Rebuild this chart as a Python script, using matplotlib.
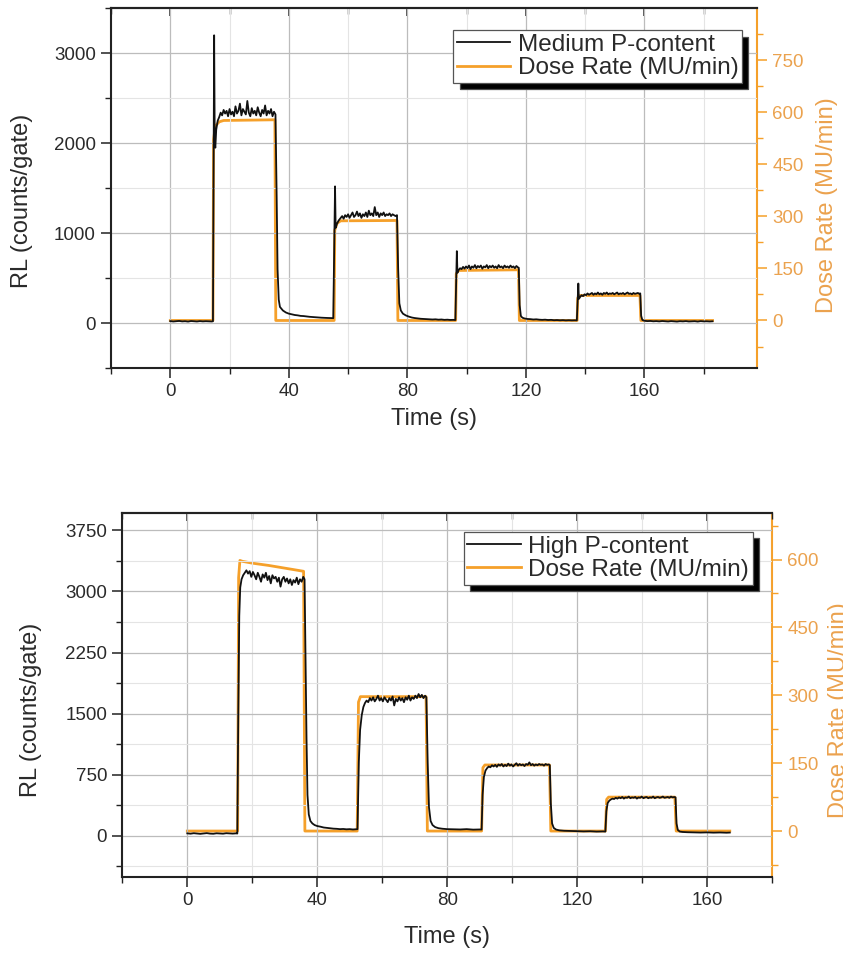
#!/usr/bin/env python3
import matplotlib
matplotlib.use('Agg')
import matplotlib.pyplot as plt
from matplotlib.ticker import MultipleLocator

plt.rcParams['font.family'] = ['Liberation Sans', 'DejaVu Sans']

# ---- Medium P-content (top panel): (time s, RL counts/gate)
medium_rl = [
    (0, 22), (1, 18), (2, 21), (3, 24), (4, 19), (5, 21), (6, 17), (7, 23), (8, 20), (9, 18),
    (10, 22), (11, 19), (12, 21), (13, 20), (14, 18), (14.4, 20),
    (14.6, 1500), (14.8, 3200), (15.0, 2000), (15.2, 1950), (15.5, 2150), (16, 2250), (16.5, 2290),
    (17, 2340), (17.5, 2310), (18, 2370), (18.5, 2330), (19, 2360), (19.5, 2300), (20, 2380),
    (20.5, 2320), (21, 2350), (21.5, 2300), (22, 2410), (22.5, 2330), (23, 2360), (23.5, 2440),
    (24, 2310), (24.5, 2380), (25, 2350), (25.5, 2320), (26, 2470), (26.5, 2340), (27, 2300),
    (27.5, 2390), (28, 2330), (28.5, 2360), (29, 2310), (29.5, 2400), (30, 2340), (30.5, 2300),
    (31, 2370), (31.5, 2330), (32, 2420), (32.5, 2310), (33, 2360), (33.5, 2330), (34, 2380),
    (34.5, 2300), (35, 2350), (35.5, 2320),
    (35.9, 1400), (36.2, 600), (36.6, 260), (37, 180), (38, 140), (39, 118), (40, 105), (41, 98),
    (42, 90), (43, 86), (44, 80), (45, 78), (46, 74), (47, 70), (48, 68), (49, 65), (50, 62),
    (51, 60), (52, 58), (53, 57), (54, 56), (55, 55),
    (55.4, 1000), (55.6, 1520), (55.8, 1060), (56.2, 1100), (56.8, 1140), (57.5, 1170), (58, 1190),
    (58.5, 1160), (59, 1200), (59.5, 1180), (60, 1210), (60.5, 1170), (61, 1200), (61.5, 1230),
    (62, 1180), (62.5, 1200), (63, 1240), (63.5, 1190), (64, 1220), (64.5, 1170), (65, 1210),
    (65.5, 1190), (66, 1230), (66.5, 1180), (67, 1250), (67.5, 1200), (68, 1220), (68.5, 1190),
    (69, 1290), (69.5, 1200), (70, 1230), (70.5, 1180), (71, 1220), (71.5, 1200), (72, 1230),
    (72.5, 1190), (73, 1210), (73.5, 1200), (74, 1220), (74.5, 1190), (75, 1210), (75.5, 1200),
    (76, 1190), (76.5, 1200),
    (76.9, 600), (77.3, 220), (77.8, 140), (78.5, 105), (79.5, 85), (80.5, 72), (81.5, 62),
    (82.5, 56), (83.5, 52), (84.5, 48), (85.5, 46), (86.5, 44), (87.5, 43), (88.5, 40),
    (89.5, 42), (90.5, 38), (91.5, 40), (92.5, 36), (93.5, 38), (94.5, 35), (95.5, 36), (96.2, 34),
    (96.5, 480), (96.7, 800), (96.9, 560), (97.3, 590), (97.8, 610), (98.3, 600), (98.8, 625),
    (99.3, 605), (99.8, 630), (100.3, 610), (100.8, 640), (101.3, 600), (101.8, 630), (102.3, 615),
    (102.8, 645), (103.3, 610), (103.8, 635), (104.3, 620), (104.8, 640), (105.3, 605),
    (105.8, 630), (106.3, 620), (106.8, 645), (107.3, 610), (107.8, 635), (108.3, 620),
    (108.8, 640), (109.3, 615), (109.8, 630), (110.3, 610), (110.8, 645), (111.3, 620),
    (111.8, 630), (112.3, 610), (112.8, 640), (113.3, 620), (113.8, 630), (114.3, 615),
    (114.8, 640), (115.3, 620), (115.8, 630), (116.3, 610), (116.8, 635), (117.3, 620), (117.6, 615),
    (117.9, 200), (118.3, 80), (118.8, 60), (119.5, 52), (120.5, 46), (121.5, 44), (122.5, 40),
    (123.5, 42), (124.5, 38), (125.5, 36), (126.5, 38), (127.5, 34), (128.5, 36), (129.5, 32),
    (130.5, 34), (131.5, 31), (132.5, 33), (133.5, 30), (134.5, 32), (135.5, 30), (136.5, 31),
    (137.2, 30),
    (137.5, 260), (137.7, 440), (137.9, 270), (138.3, 290), (138.8, 310), (139.3, 300), (139.8, 320),
    (140.3, 310), (140.8, 330), (141.3, 315), (141.8, 325), (142.3, 335), (142.8, 315),
    (143.3, 330), (143.8, 320), (144.3, 340), (144.8, 320), (145.3, 330), (145.8, 315),
    (146.3, 335), (146.8, 325), (147.3, 340), (147.8, 320), (148.3, 330), (148.8, 325),
    (149.3, 335), (149.8, 320), (150.3, 330), (150.8, 340), (151.3, 320), (151.8, 330),
    (152.3, 325), (152.8, 335), (153.3, 320), (153.8, 330), (154.3, 340), (154.8, 325),
    (155.3, 330), (155.8, 320), (156.3, 335), (156.8, 325), (157.3, 330), (157.8, 335),
    (158.3, 325), (158.6, 330),
    (158.9, 80), (159.3, 35), (160, 26), (161, 22), (162, 24), (163, 20), (164, 22), (165, 19),
    (166, 23), (167, 20), (168, 18), (169, 22), (170, 20), (171, 17), (172, 21), (173, 19),
    (174, 22), (175, 18), (176, 20), (177, 21), (178, 17), (179, 22), (180, 19), (181, 20),
    (182, 18), (183, 20),
]

# dose rate (MU/min) for the top panel
medium_dose = [
    (0, 0), (14.4, 0), (14.6, 520), (15.2, 560), (16.5, 572), (18, 576), (35.3, 578), (35.6, 0),
    (55.3, 0), (55.5, 260), (56.3, 280), (57.5, 287), (76.5, 288), (76.8, 0),
    (96.3, 0), (96.5, 135), (97.3, 144), (117.5, 146), (117.8, 0),
    (137.3, 0), (137.5, 65), (138.3, 72), (158.5, 72), (158.8, 0), (183, 0),
]

# ---- High P-content (bottom panel)
high_rl = [
    (0, 28), (1, 24), (2, 30), (3, 26), (4, 22), (5, 27), (6, 31), (7, 25), (8, 23), (9, 29),
    (10, 26), (11, 24), (12, 30), (13, 27), (14, 25), (15, 28), (15.4, 26),
    (15.7, 1500), (16.0, 2700), (16.3, 3050), (16.7, 3150), (17.2, 3200), (17.7, 3230),
    (18.2, 3260), (18.7, 3220), (19.2, 3250), (19.7, 3180), (20.2, 3240), (20.7, 3200),
    (21.2, 3150), (21.7, 3230), (22.2, 3180), (22.7, 3120), (23.2, 3210), (23.7, 3170),
    (24.2, 3230), (24.7, 3140), (25.2, 3190), (25.7, 3100), (26.2, 3200), (26.7, 3160),
    (27.2, 3180), (27.7, 3120), (28.2, 3170), (28.7, 3060), (29.2, 3150), (29.7, 3180),
    (30.2, 3120), (30.7, 3160), (31.2, 3100), (31.7, 3150), (32.2, 3080), (32.7, 3140),
    (33.2, 3110), (33.7, 3170), (34.2, 3090), (34.7, 3150), (35.2, 3120), (35.7, 3180), (36.1, 3150),
    (36.4, 2200), (36.7, 1200), (37.0, 500), (37.4, 260), (37.9, 180), (38.5, 150), (39.2, 130),
    (40, 118), (41, 110), (42, 100), (43, 95), (44, 90), (45, 86), (46, 84), (47, 80), (48, 82),
    (49, 78), (50, 80), (51, 76), (52, 78), (52.4, 80),
    (52.8, 900), (53.2, 1300), (53.7, 1480), (54.2, 1580), (54.7, 1630), (55.2, 1660),
    (55.7, 1640), (56.2, 1690), (56.7, 1660), (57.2, 1700), (57.7, 1650), (58.2, 1680),
    (58.7, 1720), (59.2, 1660), (59.7, 1690), (60.2, 1650), (60.7, 1700), (61.2, 1670),
    (61.7, 1640), (62.2, 1690), (62.7, 1660), (63.2, 1710), (63.7, 1600), (64.2, 1680),
    (64.7, 1650), (65.2, 1700), (65.7, 1660), (66.2, 1690), (66.7, 1640), (67.2, 1700),
    (67.7, 1670), (68.2, 1720), (68.7, 1660), (69.2, 1700), (69.7, 1680), (70.2, 1720),
    (70.7, 1690), (71.2, 1740), (71.7, 1700), (72.2, 1730), (72.7, 1690), (73.2, 1720), (73.6, 1700),
    (74.0, 900), (74.4, 350), (74.9, 180), (75.5, 130), (76.3, 105), (77.3, 92), (78.5, 85),
    (80, 80), (82, 78), (84, 76), (86, 80), (88, 74), (90, 76), (90.6, 75),
    (90.9, 500), (91.3, 720), (91.8, 800), (92.3, 830), (92.8, 850), (93.3, 840), (93.8, 865),
    (94.3, 850), (94.8, 870), (95.3, 845), (95.8, 875), (96.3, 860), (96.8, 880), (97.3, 850),
    (97.8, 870), (98.3, 855), (98.8, 885), (99.3, 860), (99.8, 875), (100.3, 850), (100.8, 870),
    (101.3, 890), (101.8, 860), (102.3, 880), (102.8, 865), (103.3, 875), (103.8, 855),
    (104.3, 880), (104.8, 870), (105.3, 900), (105.8, 865), (106.3, 880), (106.8, 860),
    (107.3, 875), (107.8, 865), (108.3, 880), (108.8, 870), (109.3, 875), (109.8, 860),
    (110.3, 880), (110.8, 870), (111.3, 875), (111.6, 865),
    (111.9, 400), (112.3, 150), (112.8, 95), (113.5, 75), (114.5, 65), (116, 60), (118, 58),
    (120, 55), (122, 52), (124, 54), (126, 50), (128, 52), (128.7, 50),
    (129.0, 300), (129.4, 400), (129.9, 430), (130.4, 445), (130.9, 455), (131.4, 450),
    (131.9, 465), (132.4, 455), (132.9, 470), (133.4, 460), (133.9, 475), (134.4, 455),
    (134.9, 470), (135.4, 465), (135.9, 480), (136.4, 460), (136.9, 470), (137.4, 465),
    (137.9, 475), (138.4, 455), (138.9, 470), (139.4, 465), (139.9, 480), (140.4, 460),
    (140.9, 470), (141.4, 475), (141.9, 460), (142.4, 470), (142.9, 465), (143.4, 480),
    (143.9, 460), (144.4, 470), (144.9, 475), (145.4, 465), (145.9, 470), (146.4, 480),
    (146.9, 465), (147.4, 470), (147.9, 475), (148.4, 465), (148.9, 480), (149.4, 470),
    (149.9, 475), (150.3, 470),
    (150.6, 150), (151, 70), (151.6, 50), (152.5, 45), (154, 42), (156, 40), (158, 38), (160, 40),
    (162, 37), (164, 39), (166, 36), (167, 38),
]

high_dose = [
    (0, 0), (15.5, 0), (15.8, 560), (16.2, 598), (17, 596), (20, 592), (25, 587), (30, 581),
    (35.8, 574), (36.2, 0), (52.3, 0), (52.7, 285), (53.3, 297), (73.5, 297), (73.9, 0),
    (90.6, 0), (91.0, 140), (91.6, 146), (111.5, 146), (111.9, 0),
    (128.7, 0), (129.1, 70), (129.7, 75), (150.1, 75), (150.5, 0), (167, 0),
]

ORANGE = '#F5A02A'
ORANGE_TXT = '#EBA24E'
TXT = '#2a2a2a'


def draw_panel(fig, rect, rl, dose, rl_label, xlim, ylim, ystep, ylim2,
               leg_anchor, ylab_pos, y2lab_pos, xlab_y):
    ax = fig.add_axes(rect)
    ax2 = ax.twinx()
    # keep the black trace above the orange one
    ax.set_zorder(ax2.get_zorder() + 1)
    ax.patch.set_visible(False)

    t1, v1 = zip(*dose)
    l2, = ax2.plot(t1, v1, color=ORANGE, lw=2.0, label='Dose Rate (MU/min)')
    t0, v0 = zip(*rl)
    l1, = ax.plot(t0, v0, color='#111111', lw=1.3, label=rl_label)

    ax.set_xlim(*xlim)
    ax.set_ylim(*ylim)
    ax2.set_ylim(*ylim2)

    ax.xaxis.set_major_locator(MultipleLocator(40))
    ax.xaxis.set_minor_locator(MultipleLocator(20))
    ax.yaxis.set_major_locator(MultipleLocator(ystep))
    ax.yaxis.set_minor_locator(MultipleLocator(ystep / 2))
    ax2.yaxis.set_major_locator(MultipleLocator(150))
    ax2.yaxis.set_minor_locator(MultipleLocator(75))

    ax.grid(which='major', color='#bcbcbc', lw=0.9)
    ax.grid(which='minor', color='#e4e4e4', lw=0.8)

    ax.tick_params(which='major', length=7, width=1.1, labelsize=13.5,
                   labelcolor=TXT, color='#222222', pad=4)
    ax.tick_params(which='minor', length=4, width=1.0, color='#222222')
    ax2.tick_params(which='major', length=7, width=1.1, labelsize=13.5,
                    labelcolor=ORANGE_TXT, color=ORANGE, pad=4)
    ax2.tick_params(which='minor', length=4, width=1.0, color=ORANGE)

    # inward ticks along the top edge
    top = ax.secondary_xaxis('top')
    top.xaxis.set_major_locator(MultipleLocator(40))
    top.xaxis.set_minor_locator(MultipleLocator(20))
    top.tick_params(which='both', direction='in', labeltop=False, color='#222222')
    top.tick_params(which='major', length=6, width=1.1)
    top.tick_params(which='minor', length=4, width=1.0)
    top.spines['top'].set_linewidth(1.5)
    top.spines['top'].set_color('#222222')

    for s in ['left', 'bottom', 'top']:
        ax.spines[s].set_linewidth(1.5)
        ax.spines[s].set_color('#222222')
    ax.spines['right'].set_visible(False)
    for s in ['left', 'bottom', 'top']:
        ax2.spines[s].set_visible(False)
    ax2.spines['right'].set_color(ORANGE)
    ax2.spines['right'].set_linewidth(1.5)

    ax.set_xlabel('Time (s)', fontsize=17, color=TXT)
    ax.xaxis.set_label_coords(0.5, xlab_y)
    ax.set_ylabel('RL (counts/gate)', fontsize=17, color=TXT)
    ax.yaxis.set_label_coords(*ylab_pos)
    ax2.set_ylabel('Dose Rate (MU/min)', fontsize=17, color=ORANGE_TXT)
    ax2.yaxis.set_label_coords(*y2lab_pos)

    leg = ax.legend([l1, l2], [rl_label, 'Dose Rate (MU/min)'], loc='upper right',
                    bbox_to_anchor=leg_anchor, borderaxespad=0, fontsize=17.5,
                    handlelength=2.2, handletextpad=0.3, labelspacing=0.05,
                    borderpad=0.15, fancybox=False, framealpha=1,
                    edgecolor='#555555',
                    shadow={'ox': 4.5, 'oy': -4.5, 'facecolor': 'black', 'alpha': 1})
    leg.get_frame().set_linewidth(0.9)
    for txt in leg.get_texts():
        txt.set_color(TXT)
    return ax, ax2


def main():
    fig = plt.figure(figsize=(8.43, 9.56), dpi=100)

    draw_panel(fig, [0.1317, 0.615, 0.7663, 0.3763], medium_rl, medium_dose,
               'Medium P-content', (-20, 198), (-500, 3500), 1000, (-137, 899),
               (0.977, 0.939), (-0.121, 0.464), (1.091, 0.453), -0.11)

    draw_panel(fig, [0.1451, 0.0829, 0.7707, 0.3801], high_rl, high_dose,
               'High P-content', (-20, 180), (-505, 3960), 750, (-101, 702),
               (0.970, 0.9486), (-0.1235, 0.459), (1.0857, 0.459), -0.136)

    fig.savefig('out.png', dpi=100)


if __name__ == '__main__':
    main()
